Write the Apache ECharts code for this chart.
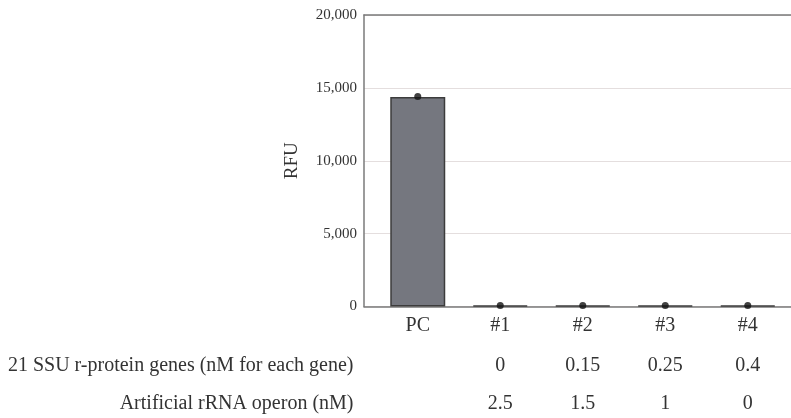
<!DOCTYPE html>
<html>
<head>
<meta charset="utf-8">
<script src="https://cdn.jsdelivr.net/npm/echarts@6/dist/echarts.min.js"></script>
<style>html,body{margin:0;padding:0;background:#fff;}#c{width:791px;height:418px;}</style>
</head>
<body>
<div id="c"></div>
<script>
const categories = ['PC', '#1', '#2', '#3', '#4'];
const rfuMean = [14380, 70, 65, 60, 65];
const rfuPoints = [14400, 75, 70, 65, 70];
const proteinConc = ['', '0', '0.15', '0.25', '0.4'];
const rrnaConc = ['', '2.5', '1.5', '1', '0'];
const yTicks = { min: 0, max: 20000, interval: 5000 };
const proteinRowLabel = '21 SSU r-protein genes (nM for each gene)';
const rrnaRowLabel = 'Artificial rRNA operon (nM)';
const yName = 'RFU';

const FONT = 'Liberation Serif';
const TXT = '#333';
const FRAME = { color: '#7a7a7a', width: 1.5 };
const chart = echarts.init(document.getElementById('c'), null, { renderer: 'canvas' });
chart.setOption({
  backgroundColor: '#ffffff',
  animation: false,
  textStyle: { fontFamily: FONT, color: TXT },
  grid: [
    { left: 376.5, width: 412.5, top: 15, height: 291.5, containLabel: false },
    { left: 364, right: 0, top: 15, height: 291.5, containLabel: false }
  ],
  xAxis: [
    { type: 'category', gridIndex: 0, data: categories,
      axisLine: { show: false }, axisTick: { show: false },
      axisLabel: { fontFamily: FONT, fontSize: 20, color: TXT, margin: 9 } },
    { type: 'category', gridIndex: 0, data: proteinConc, position: 'bottom', offset: 59,
      axisLine: { show: false }, axisTick: { show: false },
      axisLabel: { fontFamily: FONT, fontSize: 20, color: TXT, margin: 0, verticalAlign: 'middle' },
      name: proteinRowLabel, nameLocation: 'start', nameGap: 23,
      nameTextStyle: { fontFamily: FONT, fontSize: 20, color: TXT, verticalAlign: 'middle' } },
    { type: 'category', gridIndex: 0, data: rrnaConc, position: 'bottom', offset: 97,
      axisLine: { show: false }, axisTick: { show: false },
      axisLabel: { fontFamily: FONT, fontSize: 20, color: TXT, margin: 0, verticalAlign: 'middle' },
      name: rrnaRowLabel, nameLocation: 'start', nameGap: 23,
      nameTextStyle: { fontFamily: FONT, fontSize: 20, color: TXT, verticalAlign: 'middle' } },
    { type: 'value', gridIndex: 1, min: 0, max: 1, position: 'bottom',
      axisLine: { show: true, onZero: false, lineStyle: FRAME },
      axisTick: { show: false }, axisLabel: { show: false }, splitLine: { show: false } },
    { type: 'value', gridIndex: 1, min: 0, max: 1, position: 'top',
      axisLine: { show: true, onZero: false, lineStyle: FRAME },
      axisTick: { show: false }, axisLabel: { show: false }, splitLine: { show: false } }
  ],
  yAxis: [
    { type: 'value', gridIndex: 0, min: yTicks.min, max: yTicks.max, show: false },
    { type: 'value', gridIndex: 1, min: yTicks.min, max: yTicks.max, interval: yTicks.interval,
      axisLine: { show: true, onZero: false, lineStyle: FRAME },
      axisTick: { show: false },
      splitLine: { show: true, lineStyle: { color: '#e4dede', width: 1 } },
      axisLabel: { fontFamily: FONT, fontSize: 15, color: TXT, margin: 7,
        formatter: v => v.toLocaleString('en-US') },
      name: yName, nameLocation: 'middle', nameGap: 62,
      nameTextStyle: { fontFamily: FONT, fontSize: 19, color: TXT } }
  ],
  series: [
    { type: 'bar', xAxisIndex: 0, yAxisIndex: 0, data: rfuMean, barWidth: 55,
      itemStyle: { color: '#75777f', borderColor: '#3c3c3c', borderWidth: 1.5 } },
    { type: 'scatter', xAxisIndex: 0, yAxisIndex: 0, data: rfuPoints, symbolSize: 7,
      itemStyle: { color: '#111' } }
  ]
});
</script>
</body>
</html>
